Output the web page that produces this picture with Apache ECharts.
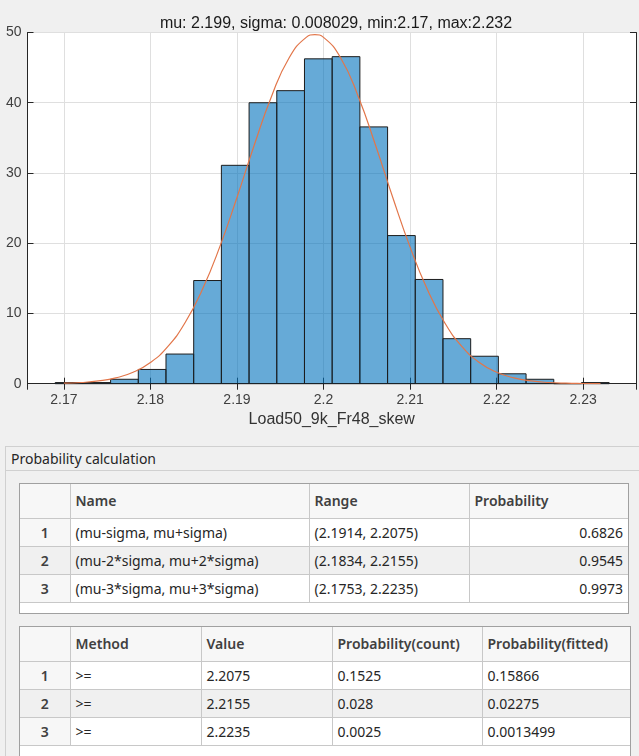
<!DOCTYPE html>
<html>
<head>
<meta charset="utf-8">
<script src="https://cdn.jsdelivr.net/npm/echarts@6/dist/echarts.min.js"></script>
<style>
  html, body { margin: 0; padding: 0; background: #f0f0f0; }
  body { width: 639px; height: 756px; overflow: hidden; position: relative; font-family: "Noto Sans", Arial, sans-serif; }
  #main { position: absolute; left: 0; top: 0; width: 639px; height: 440px; }
  .panel { position: absolute; left: 5px; top: 446px; width: 650px; height: 320px; border: 1px solid #d0d0d0; box-sizing: border-box; }
  .panel .ttl { height: 23px; line-height: 23px; border-bottom: 1px solid #d0d0d0; padding-left: 5px; font-size: 14px; color: #262626; }
  .tbox { position: absolute; background: #fff; border: 1px solid #a0a0a0; box-sizing: border-box; }
  .tbox table { border-collapse: collapse; table-layout: fixed; font-size: 14px; color: #262626; }
  .tbox th, .tbox td { border: 1px solid #c8c8c8; padding: 0 5px; white-space: nowrap; overflow: hidden; box-sizing: border-box; }
  .tbox tr:first-child th { border-top: none; }
  .tbox th:first-child, .tbox td:first-child { border-left: none; }
  .tbox th:last-child, .tbox td:last-child { border-right: none; }
  .tbox th { height: 34px; background: #f7f7f7; text-align: left; font-weight: 600; color: #404040; }
  .tbox td { height: 28px; }
  .tbox td.rn { text-align: center; font-weight: 600; background: #f7f7f7; color: #404040; }
  .tbox tr.odd td { background: #f0f0f0; }
  .tbox td.num { text-align: right; }
</style>
</head>
<body>
<div id="main"></div>
<div class="panel">
  <div class="ttl">Probability calculation</div>
</div>
<div class="tbox" id="t1" style="left:19px; top:483px; width:610px; height:131px;"></div>
<div class="tbox" id="t2" style="left:19px; top:626px; width:612px; height:140px;"></div>
<script>
// histogram (pdf normalised), bin edges and heights
var binEdges = [2.1690, 2.1722, 2.1754, 2.1786, 2.1818, 2.1850, 2.1882, 2.1914, 2.1946, 2.1978, 2.2010,
                2.2042, 2.2074, 2.2106, 2.2138, 2.2170, 2.2202, 2.2234, 2.2266, 2.2298, 2.2330];
var binHeights = [0.16, 0.16, 0.63, 2.03, 4.22, 14.69, 31.09, 40.0, 41.72, 46.25,
                  46.56, 36.56, 21.09, 14.84, 6.41, 3.91, 1.41, 0.63, 0, 0.16];

// fitted normal curve
var curveX = [2.170, 2.172, 2.174, 2.176, 2.178, 2.180, 2.182, 2.184, 2.186, 2.188, 2.190, 2.192, 2.194, 2.196, 2.198, 2.199,
              2.200, 2.202, 2.204, 2.206, 2.208, 2.210, 2.212, 2.214, 2.216, 2.218, 2.220, 2.222, 2.224, 2.226, 2.228, 2.230, 2.232];
var curveY = [0.07, 0.17, 0.39, 0.82, 1.62, 3.02, 5.28, 8.68, 13.40, 19.44, 26.51, 33.98, 40.93, 46.34, 49.31, 49.69,
              49.31, 46.34, 40.93, 33.98, 26.51, 19.44, 13.40, 8.68, 5.28, 3.02, 1.62, 0.82, 0.39, 0.17, 0.07, 0.03, 0.01];

var titleText = 'mu: 2.199, sigma: 0.008029, min:2.17, max:2.232';
var xName = 'Load50_9k_Fr48_skew';

// tables
var t1Head = ['', 'Name', 'Range', 'Probability'];
var t1Names = ['(mu-sigma, mu+sigma)', '(mu-2*sigma, mu+2*sigma)', '(mu-3*sigma, mu+3*sigma)'];
var t1Ranges = ['(2.1914, 2.2075)', '(2.1834, 2.2155)', '(2.1753, 2.2235)'];
var t1Prob = ['0.6826', '0.9545', '0.9973'];
var t1Widths = [50, 239, 160, 159];

var t2Head = ['', 'Method', 'Value', 'Probability(count)', 'Probability(fitted)'];
var t2Method = ['>=', '>=', '>='];
var t2Value = ['2.2075', '2.2155', '2.2235'];
var t2Count = ['0.1525', '0.028', '0.0025'];
var t2Fitted = ['0.15866', '0.02275', '0.0013499'];
var t2Widths = [50, 131, 131, 150, 148];

function esc(s) {
    return String(s).replace(/&/g, '&amp;').replace(/</g, '&lt;').replace(/>/g, '&gt;');
}

function buildTable(id, head, widths, cols, numCols) {
    var h = '<table style="width:' + widths.reduce(function (a, b) { return a + b; }, 0) + 'px"><colgroup>';
    widths.forEach(function (w) { h += '<col style="width:' + w + 'px">'; });
    h += '</colgroup><tr>';
    head.forEach(function (t) { h += '<th>' + esc(t) + '</th>'; });
    h += '</tr>';
    for (var r = 0; r < cols[0].length; r++) {
        h += '<tr' + (r % 2 === 1 ? ' class="odd"' : '') + '><td class="rn">' + (r + 1) + '</td>';
        cols.forEach(function (c, ci) {
            h += '<td' + (numCols.indexOf(ci) >= 0 ? ' class="num"' : '') + '>' + esc(c[r]) + '</td>';
        });
        h += '</tr>';
    }
    h += '</table>';
    document.getElementById(id).innerHTML = h;
}

buildTable('t1', t1Head, t1Widths, [t1Names, t1Ranges, t1Prob], [2]);
buildTable('t2', t2Head, t2Widths, [t2Method, t2Value, t2Count, t2Fitted], []);

var bins = binHeights.map(function (v, i) {
    return [binEdges[i], binEdges[i + 1], v];
});
var curve = curveX.map(function (x, i) {
    return [x, curveY[i]];
});

var myChart = echarts.init(document.getElementById('main'));

var axisColor = '#262626';
var xMin = 2.1658, xMax = 2.2361;

var option = {
    animation: false,
    textStyle: {fontFamily: 'Arial, "Liberation Sans", sans-serif'},
    title: {
        text: titleText,
        left: 331,
        textAlign: 'center',
        top: 11,
        textStyle: {fontSize: 16, fontWeight: 'normal', color: '#1a1a1a', fontFamily: 'Arial, "Liberation Sans", sans-serif'}
    },
    grid: {left: 27.5, right: 3, top: 32.5, bottom: 56.3, backgroundColor: '#fff', show: true, borderWidth: 0},
    xAxis: [
        {
            type: 'value', min: xMin, max: xMax, splitNumber: 7,
            name: xName, nameLocation: 'middle', nameGap: 27,
            nameTextStyle: {fontSize: 16, color: '#333'},
            axisLine: {show: true, lineStyle: {color: axisColor}},
            axisTick: {show: true, inside: true, length: 6, lineStyle: {color: axisColor}},
            axisLabel: {fontSize: 14, color: '#404040', margin: 9, showMinLabel: false, showMaxLabel: false},
            splitLine: {show: true, lineStyle: {color: '#dfdfdf'}}
        },
        {
            type: 'value', min: xMin, max: xMax, splitNumber: 7, position: 'top',
            axisLine: {show: true, lineStyle: {color: axisColor}},
            axisTick: {show: true, inside: true, length: 6, lineStyle: {color: axisColor}},
            axisLabel: {show: false},
            splitLine: {show: false}
        }
    ],
    yAxis: [
        {
            type: 'value', min: 0, max: 50, interval: 10,
            axisLine: {show: true, lineStyle: {color: axisColor}},
            axisTick: {show: true, inside: true, length: 6, lineStyle: {color: axisColor}},
            axisLabel: {fontSize: 14, color: '#404040', margin: 6},
            splitLine: {show: true, lineStyle: {color: '#dfdfdf'}}
        },
        {
            type: 'value', min: 0, max: 50, interval: 10, position: 'right',
            axisLine: {show: true, lineStyle: {color: axisColor}},
            axisTick: {show: true, inside: true, length: 6, lineStyle: {color: axisColor}},
            axisLabel: {show: false},
            splitLine: {show: false}
        }
    ],
    series: [
        {
            type: 'custom',
            xAxisIndex: 0,
            yAxisIndex: 0,
            data: bins,
            renderItem: function (params, api) {
                var p0 = api.coord([api.value(0), api.value(2)]);
                var p1 = api.coord([api.value(1), 0]);
                return {
                    type: 'rect',
                    shape: {x: p0[0], y: p0[1], width: p1[0] - p0[0], height: p1[1] - p0[1]},
                    style: {fill: 'rgba(0,114,189,0.6)', stroke: '#1c1c1c', lineWidth: 1}
                };
            }
        },
        {
            type: 'line',
            xAxisIndex: 0,
            yAxisIndex: 0,
            data: curve,
            smooth: true,
            showSymbol: false,
            symbol: 'none',
            lineStyle: {color: '#E2764A', width: 1.2},
            z: 5
        }
    ]
};

myChart.setOption(option);
</script>
</body>
</html>
